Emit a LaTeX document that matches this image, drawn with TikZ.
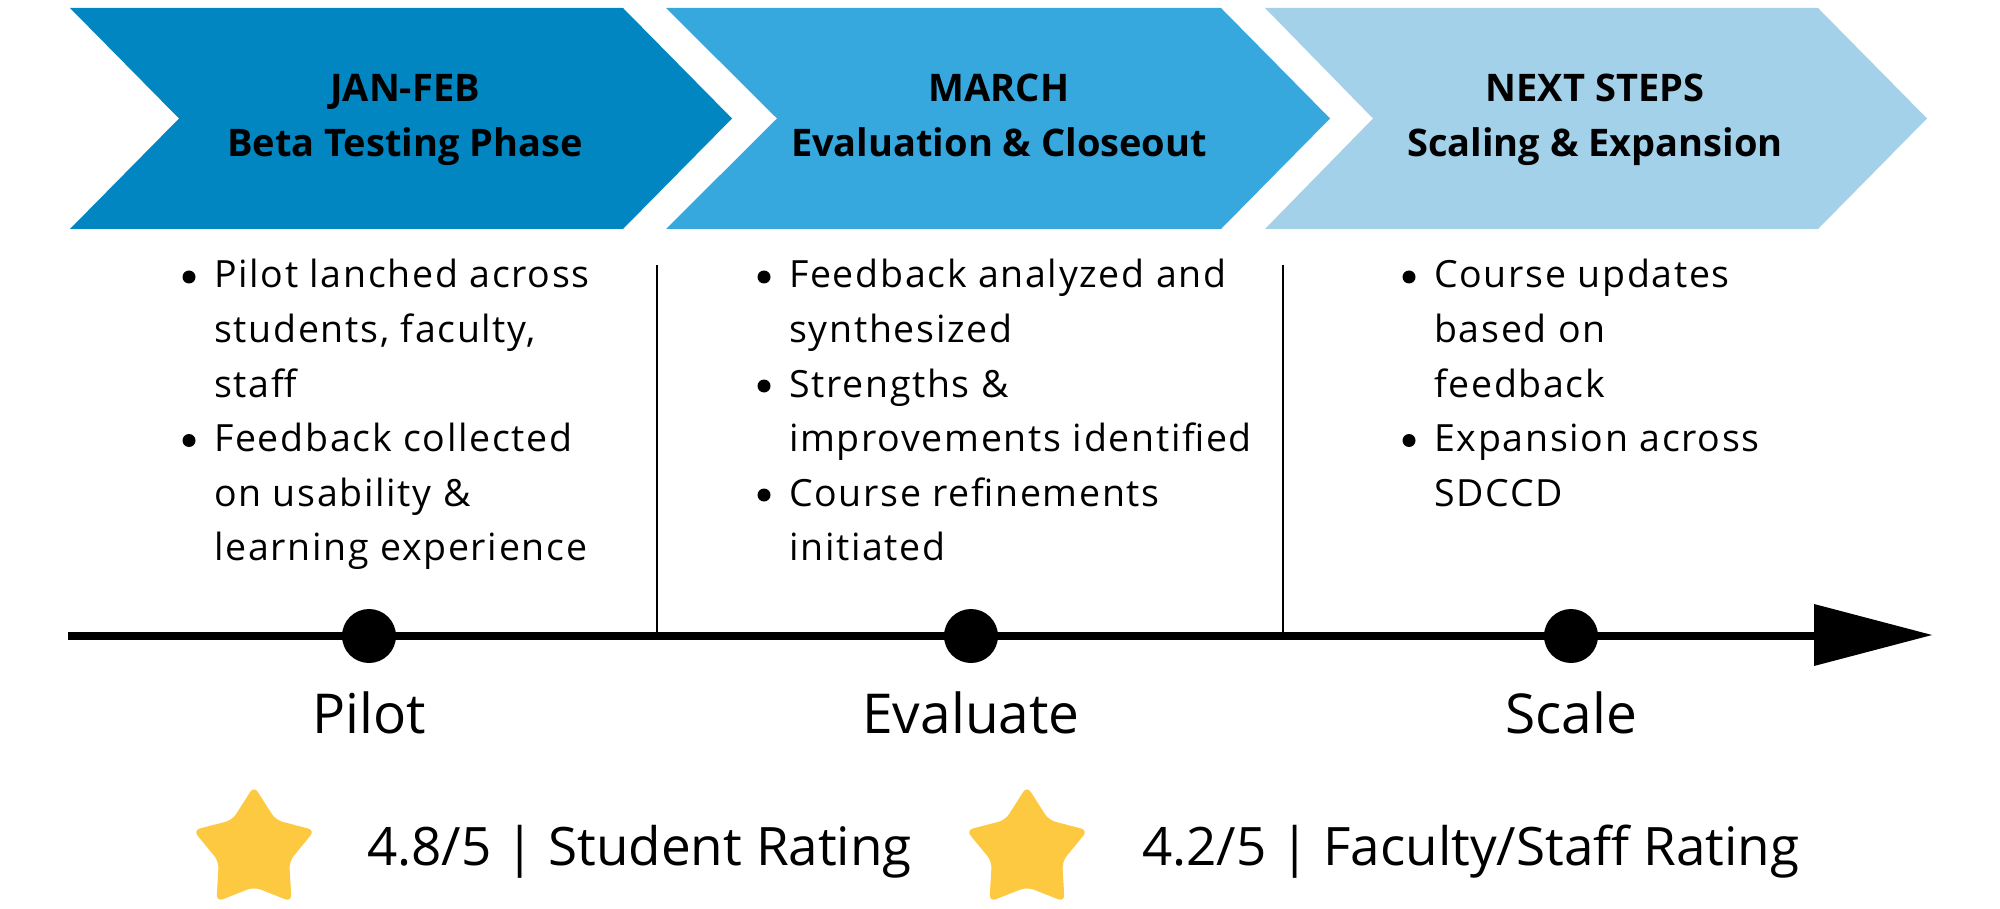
\documentclass[tikz,border=0pt]{standalone}
\usepackage{fontspec}
\setmainfont{Open Sans}
\newfontfamily\bodyfont[LetterSpace=4.5]{Open Sans}
\definecolor{arrowA}{RGB}{2,134,193}
\definecolor{arrowB}{RGB}{54,168,222}
\definecolor{arrowC}{RGB}{164,209,234}
\definecolor{starY}{RGB}{252,201,64}
\newcommand\bodyline[4]{\node[body] (#1) at (#2,{288+54.5*#3}) {#4};}
\newcommand\bulletdot[3]{\node[bul] (#1) at (#2,{277+54.5*#3}) {};}
\newcommand\ratingstar[1]{\fill[starY, rounded corners=7pt] ($(#1)+(-90:64)$) -- ($(#1)+(-54:37)$) -- ($(#1)+(-18:64)$) -- ($(#1)+(18:37)$) -- ($(#1)+(54:64)$) -- ($(#1)+(90:37)$) -- ($(#1)+(126:64)$) -- ($(#1)+(162:37)$) -- ($(#1)+(198:64)$) -- ($(#1)+(234:37)$) -- cycle;}
\usetikzlibrary{calc}
\begin{document}
\begin{tikzpicture}[x=1pt,y=-1pt,
  body/.style={anchor=base west, inner sep=0pt, font=\bodyfont\fontsize{37.5}{44}\selectfont},
  head/.style={anchor=base, inner sep=0pt, font=\bfseries\fontsize{38}{44}\selectfont},
  bul/.style={circle, fill=black, inner sep=0pt, minimum size=13},
  divider/.style={line width=2pt, black},
  dot/.style={circle, fill=black, inner sep=0pt, minimum size=54},
  phase/.style={anchor=base, inner sep=0pt, font=\fontsize{55}{62}\selectfont},
  rating/.style={anchor=base west, inner sep=0pt, font=\fontsize{53}{60}\selectfont}]
\useasboundingbox (0,0) rectangle (2000,909);
% chevrons
\fill[arrowA] (70,8) -- (623,8) -- (732,118.5) -- (623,229) -- (70,229) -- (179,118.5) -- cycle;
\fill[arrowB] (666,8) -- (1221,8) -- (1330,118.5) -- (1221,229) -- (666,229) -- (777,118.5) -- cycle;
\fill[arrowC] (1265,8) -- (1818,8) -- (1927,118.5) -- (1818,229) -- (1265,229) -- (1373,118.5) -- cycle;
% headers
\node[head] (h1a) at (405,102) {JAN-FEB};
\node[head] (h1b) at (405,157) {Beta Testing Phase};
\node[head] (h2a) at (999,102) {MARCH};
\node[head] (h2b) at (999,157) {Evaluation \& Closeout};
\node[head] (h3a) at (1595,102) {NEXT STEPS};
\node[head] (h3b) at (1595,157) {Scaling \& Expansion};
% column 1
\bulletdot{b1a}{189}{0}
\bodyline{c1a}{214}{0}{Pilot lanched across}
\bodyline{c1b}{214}{1}{students, faculty,}
\bodyline{c1c}{214}{2}{staff}
\bulletdot{b1b}{189}{3}
\bodyline{c1d}{214}{3}{Feedback collected}
\bodyline{c1e}{214}{4}{on usability \&}
\bodyline{c1f}{214}{5}{learning experience}
% column 2
\bulletdot{b2a}{764}{0}
\bodyline{c2a}{789}{0}{Feedback analyzed and}
\bodyline{c2b}{789}{1}{synthesized}
\bulletdot{b2b}{764}{2}
\bodyline{c2c}{789}{2}{Strengths \&}
\bodyline{c2d}{789}{3}{improvements identified}
\bulletdot{b2c}{764}{4}
\bodyline{c2e}{789}{4}{Course refinements}
\bodyline{c2f}{789}{5}{initiated}
% column 3
\bulletdot{b3a}{1409}{0}
\bodyline{c3a}{1434}{0}{Course updates}
\bodyline{c3b}{1434}{1}{based on}
\bodyline{c3c}{1434}{2}{feedback}
\bulletdot{b3b}{1409}{3}
\bodyline{c3d}{1434}{3}{Expansion across}
\bodyline{c3e}{1434}{4}{SDCCD}
% timeline
\coordinate (tlL) at (68,636);
\coordinate (tlR) at (1820,636);
\coordinate (d1top) at (657,265);
\coordinate (d1bot) at (657,636);
\coordinate (d2top) at (1283,265);
\coordinate (d2bot) at (1283,636);
\draw[divider] (d1top) -- (d1bot);
\draw[divider] (d2top) -- (d2bot);
\draw[line width=8pt] (tlL) -- (tlR);
\fill (1814,604) -- (1932,635) -- (1814,666) -- cycle;
\node[dot] (p1) at (369,636) {};
\node[dot] (p2) at (971,636) {};
\node[dot] (p3) at (1571,636) {};
\node[phase] (l1) at (369,733) {Pilot};
\node[phase] (l2) at (971,733) {Evaluate};
\node[phase] (l3) at (1571,733) {Scale};
% ratings
\coordinate (s1) at (254,850);
\coordinate (s2) at (1027,850);
\ratingstar{s1}
\ratingstar{s2}
\node[rating] (r1) at (367,865) {4.8/5 | Student Rating};
\node[rating] (r2) at (1142,865) {4.2/5 | Faculty/Staff Rating};
\end{tikzpicture}
\end{document}
